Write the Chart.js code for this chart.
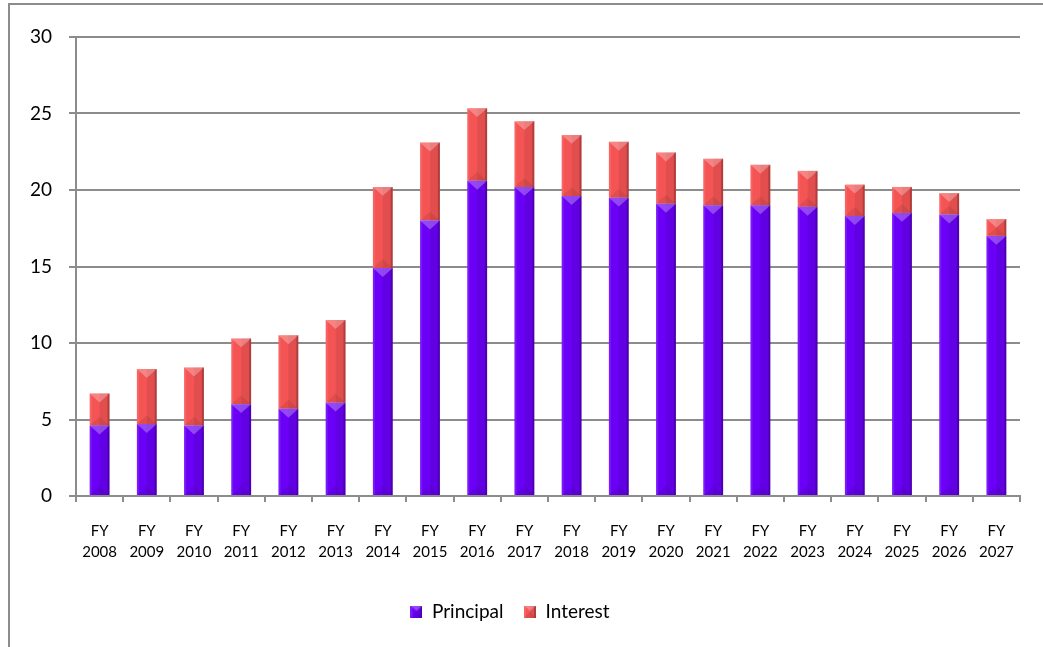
<!DOCTYPE html>
<html>
<head>
<meta charset="utf-8">
<script src="https://cdn.jsdelivr.net/npm/chart.js@4"></script>
<style>
  html, body { margin: 0; padding: 0; background: #fff; overflow: hidden; }
  #wrap { position: absolute; left: 0; top: 0; width: 1043px; height: 647px; }
  #frame {
    position: absolute; left: 8px; top: 3px; width: 1100px; height: 700px;
    border-left: 2px solid #8c8c8c; border-top: 2px solid #8c8c8c;
  }
</style>
</head>
<body>
<div id="frame"></div>
<div id="wrap"><canvas id="debt-chart"></canvas></div>
<script>
// Debt service by fiscal year

const years = [
  "2008", "2009", "2010", "2011", "2012", "2013", "2014", "2015", "2016", "2017",
  "2018", "2019", "2020", "2021", "2022", "2023", "2024", "2025", "2026", "2027",
];
const principal = [
  4.6, 4.7, 4.6, 6.0, 5.7, 6.1, 14.9, 18.0, 20.6, 20.2,
  19.6, 19.5, 19.1, 19.0, 19.0, 18.9, 18.3, 18.5, 18.4, 17.0,
];
const interest = [
  2.1, 3.6, 3.8, 4.3, 4.8, 5.4, 5.3, 5.1, 4.75, 4.3,
  4.0, 3.65, 3.35, 3.05, 2.65, 2.35, 2.05, 1.7, 1.4, 1.1,
];
const yTicks = [0, 5, 10, 15, 20, 25, 30];

const purple = "#6a00f6";
const red = "#f45454";
const fontFamily = "Lato, 'Open Sans', sans-serif";

// draws the bevel look on top of each bar
function bevel(ctx, l, t, r, b) {
  const w = r - l;
  const cx = (l + r) / 2;
  const d = Math.min(w * 0.45, (b - t) / 2);
  ctx.save();
  // right side shade
  ctx.fillStyle = "rgba(0,0,0,0.07)";
  ctx.fillRect(cx, t, r - cx, b - t);
  ctx.fillStyle = "rgba(0,0,0,0.22)";
  ctx.fillRect(r - 2, t, 2, b - t);
  ctx.fillStyle = "rgba(255,255,255,0.10)";
  ctx.fillRect(l, t, 2, b - t);
  // top facet
  ctx.fillStyle = "rgba(255,255,255,0.28)";
  ctx.beginPath();
  ctx.moveTo(l, t);
  ctx.lineTo(r, t);
  ctx.lineTo(cx, t + d);
  ctx.closePath();
  ctx.fill();
  // bottom facet
  ctx.fillStyle = "rgba(0,0,0,0.08)";
  ctx.beginPath();
  ctx.moveTo(l, b);
  ctx.lineTo(r, b);
  ctx.lineTo(cx, b - d);
  ctx.closePath();
  ctx.fill();
  ctx.restore();
}

const bevelPlugin = {
  id: "bevel",
  afterDatasetsDraw(chart) {
    const ctx = chart.ctx;
    chart.data.datasets.forEach((ds, i) => {
      chart.getDatasetMeta(i).data.forEach((bar) => {
        const p = bar.getProps(["x", "y", "base", "width"], true);
        bevel(ctx, p.x - p.width / 2, Math.min(p.y, p.base), p.x + p.width / 2, Math.max(p.y, p.base));
      });
    });
  },
};

function legendSwatch(color) {
  const c = document.createElement("canvas");
  c.width = 12;
  c.height = 12;
  const g = c.getContext("2d");
  g.fillStyle = color;
  g.fillRect(0, 0, 12, 12);
  bevel(g, 0, 0, 12, 12);
  return c;
}

const swatches = [legendSwatch(purple), legendSwatch(red)];

const ctx = document.getElementById("debt-chart").getContext("2d");
const debtChart = new Chart(ctx, {
  type: "bar",
  data: {
    labels: years.map((y) => ["FY", y]),
    datasets: [
      {
        label: "Principal",
        data: principal,
        backgroundColor: purple,
        borderWidth: 0,
        categoryPercentage: 1,
        barPercentage: 0.42,
      },
      {
        label: "Interest",
        data: interest,
        backgroundColor: red,
        borderWidth: 0,
        categoryPercentage: 1,
        barPercentage: 0.42,
      },
    ],
  },
  options: {
    responsive: true,
    maintainAspectRatio: false,
    animation: false,
    layout: {
      padding: { top: 37, right: 23, left: 0, bottom: 16 },
    },
    plugins: {
      tooltip: { enabled: false },
      legend: {
        position: "bottom",
        labels: {
          color: "#000",
          font: { family: fontFamily, size: 19 },
          usePointStyle: true,
          boxWidth: 12,
          boxHeight: 12,
          padding: 20.5,
          generateLabels(chart) {
            return Chart.defaults.plugins.legend.labels.generateLabels(chart).map((item, i) => {
              item.pointStyle = swatches[i];
              return item;
            });
          },
        },
      },
    },
    scales: {
      x: {
        stacked: true,
        grid: {
          drawOnChartArea: false,
          drawTicks: true,
          tickLength: 6,
          offset: true,
          color: "#8c8c8c",
          lineWidth: 2,
        },
        border: { display: true, color: "#8c8c8c", width: 2 },
        ticks: {
          color: "#000",
          font: { family: fontFamily, size: 15, lineHeight: 1.45 },
          padding: 18,
          maxRotation: 0,
          autoSkip: false,
        },
      },
      y: {
        stacked: true,
        min: 0,
        max: 30,
        afterFit(scale) {
          scale.width = 76;
        },
        afterBuildTicks(scale) {
          scale.ticks = yTicks.map((v) => ({ value: v }));
        },
        grid: {
          color: "#8c8c8c",
          lineWidth: 2,
          tickLength: 7,
        },
        border: { display: true, color: "#8c8c8c", width: 2 },
        ticks: {
          color: "#000",
          font: { family: fontFamily, size: 19 },
          padding: 17,
        },
      },
    },
  },
  plugins: [bevelPlugin],
});
</script>
</body>
</html>
